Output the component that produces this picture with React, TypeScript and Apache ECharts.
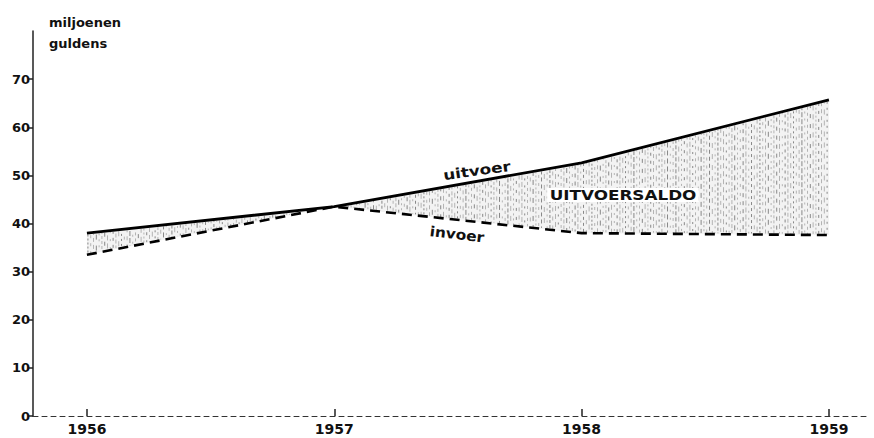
import React, { useEffect, useRef } from "react";
import * as echarts from "echarts";

const years = [1956, 1957, 1958, 1959];
const uitvoer = [38.0, 43.5, 52.6, 65.7];
const invoer = [33.5, 43.5, 38.0, 37.6];
const yTicks = [0, 10, 20, 30, 40, 50, 60, 70];
const yTitle = ["miljoenen", "guldens"];
const labelUitvoer = "uitvoer";
const labelInvoer = "invoer";
const labelSaldo = "UITVOERSALDO";

function interp(pts: number[][], x: number): number {
  for (let i = 0; i < pts.length - 1; i++) {
    const a = pts[i];
    const b = pts[i + 1];
    if (x >= a[0] && x <= b[0]) {
      const t = (x - a[0]) / (b[0] - a[0] || 1);
      return a[1] + t * (b[1] - a[1]);
    }
  }
  return pts[pts.length - 1][1];
}

export default function App() {
  const ref = useRef<HTMLDivElement>(null);
  useEffect(() => {
    if (!ref.current) return;
    const chart = echarts.init(ref.current, undefined, { renderer: "svg" });
    const font = "DejaVu Sans";
    const pairs = (arr: number[]) => arr.map((v, i) => [years[i], v]);

    const renderSaldo = (_params: any, api: any) => {
      const top = years.map((y, i) => api.coord([y, uitvoer[i]]));
      const bot = years.map((y, i) => api.coord([y, invoer[i]]));
      const poly = top.concat(bot.slice().reverse());
      const children: any[] = [
        {
          type: "polygon",
          shape: { points: poly },
          style: { fill: "#f3f3f3", stroke: "none" },
        },
      ];
      const x0 = top[0][0];
      const x1 = top[top.length - 1][0];
      let k = 0;
      for (let x = x0 + 1; x < x1; x += 2.8) {
        const yt = interp(top, x) + 1.5;
        const yb = interp(bot, x) - 1;
        if (yb - yt > 1) {
          const dashA = 2 + (k * 5) % 4;
          const dashB = 2 + (k * 3) % 5;
          children.push({
            type: "line",
            shape: { x1: x, y1: yt, x2: x, y2: yb },
            style: {
              stroke: k % 3 === 0 ? "#7a7a7a" : "#ababab",
              lineWidth: 0.9,
              lineDash: [dashA, dashB],
              lineDashOffset: (k * 7) % 11,
            },
          });
        }
        k++;
      }
      return { type: "group", children };
    };

    chart.setOption({
      animation: false,
      backgroundColor: "#ffffff",
      grid: { left: 33, right: 4, top: 31, bottom: 22, containLabel: false },
      xAxis: {
        type: "value",
        min: 1955.782,
        max: 1959.166,
        axisLine: { show: true, lineStyle: { color: "#333", width: 1, type: [5, 4] } },
        axisTick: { show: true, inside: true, length: 7, customValues: years, lineStyle: { color: "#222", width: 1.5 } },
        axisLabel: {
          customValues: years,
          formatter: (v: number) => String(v),
          color: "#111",
          fontFamily: font,
          fontWeight: "bold",
          fontSize: 14,
          margin: 6,
        },
        splitLine: { show: false },
      },
      yAxis: {
        type: "value",
        min: 0,
        max: 80,
        axisLine: { show: true, lineStyle: { color: "#222", width: 1.5 } },
        axisTick: { show: true, length: 4, customValues: yTicks, lineStyle: { color: "#222", width: 1.5 } },
        axisLabel: {
          customValues: yTicks,
          color: "#111",
          fontFamily: font,
          fontWeight: "bold",
          fontSize: 13,
          margin: 3,
        },
        splitLine: { show: false },
      },
      series: [
        {
          type: "custom",
          renderItem: renderSaldo,
          data: [0],
          silent: true,
          z: 1,
        },
        {
          type: "line",
          data: pairs(uitvoer),
          symbol: "none",
          lineStyle: { color: "#000", width: 2.8 },
          z: 5,
        },
        {
          type: "line",
          data: pairs(invoer),
          symbol: "none",
          lineStyle: { color: "#000", width: 2.6, type: [10, 6] },
          z: 5,
        },
      ],
      graphic: [
        {
          type: "text",
          left: 49,
          top: 12,
          style: {
            text: yTitle.join("\n"),
            font: `bold 13px "${font}"`,
            fill: "#111",
            lineHeight: 21,
          },
        },
        {
          type: "text",
          x: 477,
          y: 171,
          rotation: 0.14,
          scaleX: 1.2,
          style: {
            text: labelUitvoer,
            font: `bold 14px "${font}"`,
            fill: "#111",
            align: "center",
            verticalAlign: "middle",
          },
          z: 10,
        },
        {
          type: "text",
          x: 457,
          y: 234,
          rotation: -0.12,
          scaleX: 1.1,
          style: {
            text: labelInvoer,
            font: `bold 14px "${font}"`,
            fill: "#111",
            align: "center",
            verticalAlign: "middle",
          },
          z: 10,
        },
        {
          type: "text",
          x: 623,
          y: 195,
          scaleX: 1.2,
          style: {
            text: labelSaldo,
            font: `bold 14px "${font}"`,
            fill: "#111",
            align: "center",
            verticalAlign: "middle",
            backgroundColor: "#fff",
            padding: [0, 2],
          },
          z: 10,
        },
      ],
    });
    return () => chart.dispose();
  }, []);
  return (
    <div
      ref={ref}
      style={{ position: "fixed", left: 0, top: 0, width: 874, height: 438 }}
    />
  );
}
